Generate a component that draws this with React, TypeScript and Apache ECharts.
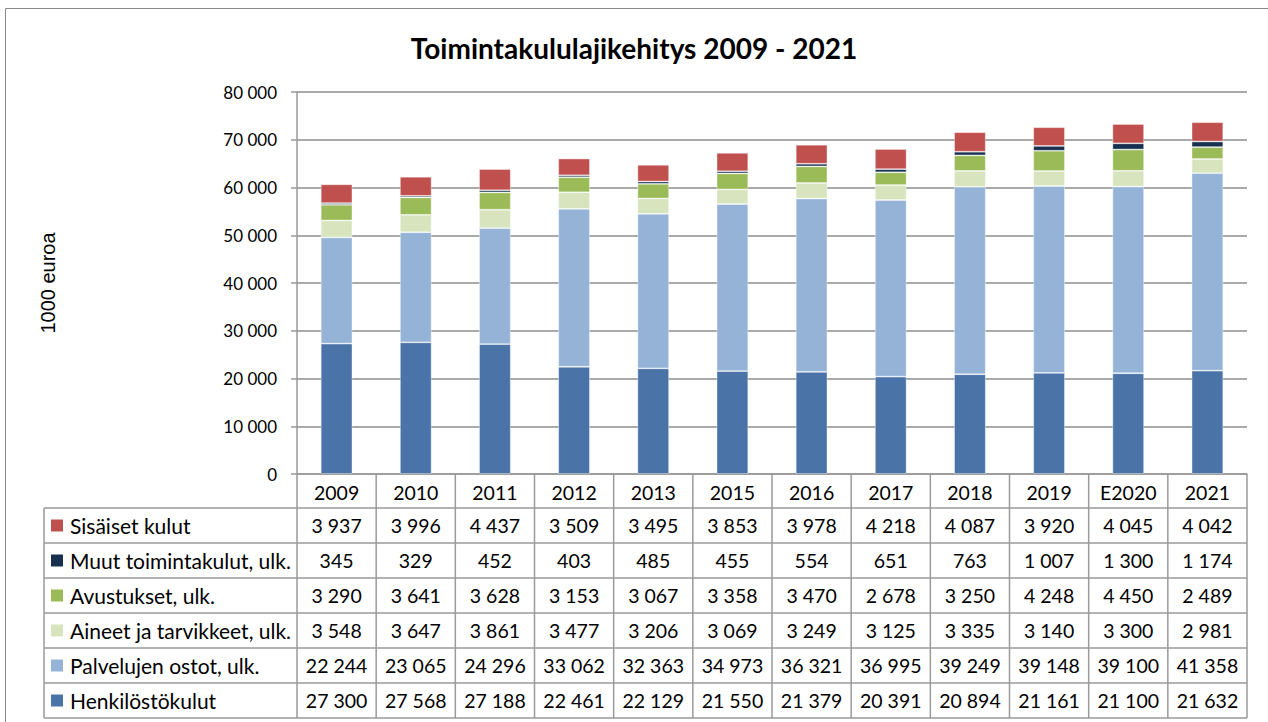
import React, { useEffect, useRef } from "react";
import * as echarts from "echarts";

const categories = ["2009", "2010", "2011", "2012", "2013", "2015", "2016", "2017", "2018", "2019", "E2020", "2021"];
const henkilosto = [27300, 27568, 27188, 22461, 22129, 21550, 21379, 20391, 20894, 21161, 21100, 21632];
const palvelut = [22244, 23065, 24296, 33062, 32363, 34973, 36321, 36995, 39249, 39148, 39100, 41358];
const aineet = [3548, 3647, 3861, 3477, 3206, 3069, 3249, 3125, 3335, 3140, 3300, 2981];
const avustukset = [3290, 3641, 3628, 3153, 3067, 3358, 3470, 2678, 3250, 4248, 4450, 2489];
const muut = [345, 329, 452, 403, 485, 455, 554, 651, 763, 1007, 1300, 1174];
const sisaiset = [3937, 3996, 4437, 3509, 3495, 3853, 3978, 4218, 4087, 3920, 4045, 4042];

const seriesNames = [
  "Henkilöstökulut",
  "Palvelujen ostot, ulk.",
  "Aineet ja tarvikkeet, ulk.",
  "Avustukset, ulk.",
  "Muut toimintakulut, ulk.",
  "Sisäiset kulut",
];
const seriesData = [henkilosto, palvelut, aineet, avustukset, muut, sisaiset];
const seriesColors = ["#4A73A8", "#95B3D7", "#D7E4BD", "#9BBB59", "#17304F", "#C0504D"];

const fmt = (v: number) => {
  const s = String(Math.round(v));
  return s.replace(/\B(?=(\d{3})+(?!\d))/g, " ");
};

export default function App() {
  const ref = useRef<HTMLDivElement>(null);
  useEffect(() => {
    if (!ref.current) return;
    const chart = echarts.init(ref.current, undefined, { renderer: "svg" });
    const W = 1268;
    const H = 722;
    const gLeft = 297;
    const gRight = 1247;
    const gTop = 92;
    const gBottom = 474;
    const colW = (gRight - gLeft) / categories.length;
    const tableLeft = 44;
    const rowTop = 508;
    const rowH = 35;
    const lineColor = "#9a9a9a";
    const font = "Lato";

    const graphics: any[] = [];
    graphics.push({
      type: "rect",
      shape: { x: 5.5, y: 8.5, width: W + 20, height: H + 20 },
      style: { fill: "none", stroke: "#8a8a8a", lineWidth: 1 },
      silent: true,
    });
    const nRows = seriesNames.length;
    for (let r = 0; r <= nRows; r++) {
      const y = rowTop + r * rowH;
      graphics.push({
        type: "line",
        shape: { x1: tableLeft, y1: y, x2: gRight, y2: y },
        style: { stroke: lineColor, lineWidth: 1.5 },
        silent: true,
      });
    }
    graphics.push({
      type: "line",
      shape: { x1: tableLeft, y1: rowTop, x2: tableLeft, y2: rowTop + nRows * rowH },
      style: { stroke: lineColor, lineWidth: 1.5 },
      silent: true,
    });
    for (let i = 0; i <= categories.length; i++) {
      const x = gLeft + i * colW;
      graphics.push({
        type: "line",
        shape: { x1: x, y1: gBottom, x2: x, y2: rowTop + nRows * rowH },
        style: { stroke: lineColor, lineWidth: 1.5 },
        silent: true,
      });
    }
    for (let r = 0; r < nRows; r++) {
      const si = nRows - 1 - r;
      const cy = rowTop + (r + 0.5) * rowH;
      graphics.push({
        type: "rect",
        shape: { x: 51, y: cy - 6, width: 12, height: 12 },
        style: { fill: seriesColors[si] },
        silent: true,
      });
      graphics.push({
        type: "text",
        x: 70,
        y: cy,
        style: {
          text: seriesNames[si],
          font: `21px ${font}`,
          fill: "#000",
          verticalAlign: "middle",
          align: "left",
        },
        silent: true,
      });
      const data = seriesData[si];
      for (let i = 0; i < categories.length; i++) {
        graphics.push({
          type: "text",
          x: gLeft + (i + 0.5) * colW,
          y: cy,
          style: {
            text: fmt(data[i]),
            font: `19.5px ${font}`,
            fill: "#000",
            verticalAlign: "middle",
            align: "center",
          },
          silent: true,
        });
      }
    }

    chart.setOption({
      animation: false,
      backgroundColor: "#fff",
      title: {
        text: "Toimintakululajikehitys 2009 - 2021",
        left: "center",
        top: 29,
        textStyle: { fontFamily: font, fontWeight: "bold", fontSize: 28, color: "#000" },
      },
      grid: { left: gLeft, right: W - gRight, top: gTop, bottom: H - gBottom, containLabel: false },
      xAxis: {
        type: "category",
        data: categories,
        axisLine: { show: true, lineStyle: { color: lineColor, width: 1.5 } },
        axisTick: { show: false },
        axisLabel: { fontFamily: font, fontSize: 19.5, color: "#000", margin: 8 },
        splitLine: { show: false },
      },
      yAxis: {
        type: "value",
        min: 0,
        max: 80000,
        interval: 10000,
        name: "1000 euroa",
        nameLocation: "middle",
        nameRotate: 90,
        nameGap: 239,
        nameTextStyle: { fontFamily: "Liberation Sans", fontSize: 20, color: "#000" },
        axisLine: { show: true, lineStyle: { color: lineColor, width: 1.5 } },
        axisTick: { show: true, length: 6, lineStyle: { color: lineColor, width: 1.5 } },
        axisLabel: {
          fontFamily: font,
          fontSize: 17,
          color: "#000",
          margin: 20,
          formatter: (v: number) => fmt(v),
        },
        splitLine: { show: true, lineStyle: { color: "#8c8c8c", width: 1.5 } },
      },
      series: seriesNames.map((name, si) => ({
        name,
        type: "bar",
        stack: "total",
        barWidth: "40%",
        data: seriesData[si],
        itemStyle: {
          color: seriesColors[si],
          borderColor: "rgba(255,255,255,0.5)",
          borderWidth: 0.8,
        },
      })),
      graphic: graphics,
    });
    return () => chart.dispose();
  }, []);
  return (
    <div
      ref={ref}
      style={{ position: "fixed", left: 0, top: 0, width: 1268, height: 722 }}
    />
  );
}
